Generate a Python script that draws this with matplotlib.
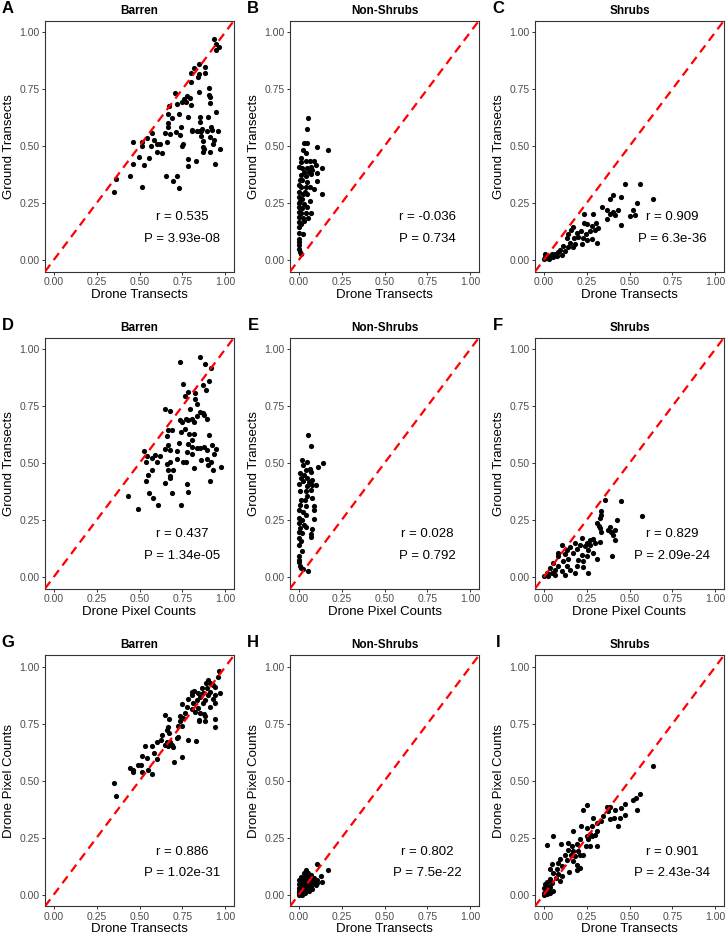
import matplotlib
matplotlib.use("Agg")
import matplotlib.pyplot as plt

plt.rcParams["font.family"] = ["Liberation Sans", "DejaVu Sans"]

# Panel A: Barren, drone transects vs ground transects
a_pts = [(0.35, 0.298), (0.364, 0.355), (0.445, 0.369), (0.462, 0.422), (0.464, 0.517), (0.499, 0.454),
         (0.513, 0.32), (0.515, 0.502), (0.515, 0.52), (0.528, 0.415), (0.542, 0.534), (0.553, 0.448),
         (0.571, 0.556), (0.565, 0.50), (0.584, 0.527), (0.600, 0.474), (0.603, 0.51), (0.619, 0.51),
         (0.629, 0.469), (0.652, 0.369), (0.648, 0.556), (0.658, 0.52), (0.663, 0.585), (0.663, 0.60),
         (0.667, 0.639), (0.671, 0.676), (0.677, 0.552), (0.687, 0.622), (0.696, 0.345), (0.704, 0.734),
         (0.712, 0.563), (0.716, 0.685), (0.721, 0.371), (0.727, 0.641), (0.729, 0.318), (0.735, 0.549),
         (0.741, 0.585), (0.747, 0.693), (0.75, 0.502), (0.754, 0.51), (0.758, 0.707), (0.768, 0.695),
         (0.778, 0.72), (0.78, 0.629), (0.785, 0.442), (0.785, 0.413), (0.793, 0.71), (0.797, 0.68),
         (0.797, 0.822), (0.803, 0.571), (0.799, 0.781), (0.808, 0.568), (0.818, 0.841), (0.828, 0.435),
         (0.832, 0.568), (0.841, 0.801), (0.847, 0.86), (0.847, 0.816), (0.851, 0.568), (0.849, 0.737),
         (0.851, 0.629), (0.855, 0.604), (0.857, 0.566), (0.857, 0.545), (0.863, 0.577), (0.867, 0.476),
         (0.87, 0.498), (0.872, 0.523), (0.874, 0.488), (0.88, 0.848), (0.882, 0.819), (0.89, 0.564),
         (0.9, 0.626), (0.905, 0.755), (0.905, 0.724), (0.909, 0.539), (0.913, 0.472), (0.913, 0.715),
         (0.913, 0.691), (0.919, 0.582), (0.921, 0.571), (0.925, 0.51), (0.932, 0.527), (0.936, 0.969),
         (0.938, 0.423), (0.944, 0.65), (0.944, 0.92), (0.948, 0.947), (0.957, 0.564), (0.963, 0.934),
         (0.967, 0.488)]

# Panel B: Non-Shrubs, drone transects vs ground transects
b_pts = [(0.056, 0.621), (0.047, 0.576), (0.031, 0.515), (0.05, 0.512), (0.109, 0.497), (0.172, 0.485),
         (0.027, 0.482), (0.041, 0.471), (0.012, 0.431), (0.041, 0.434), (0.066, 0.434), (0.089, 0.436),
         (0.002, 0.409), (0.021, 0.406), (0.05, 0.402), (0.07, 0.409), (0.099, 0.417), (0.138, 0.406),
         (0.031, 0.387), (0.06, 0.387), (0.079, 0.395), (0.105, 0.383), (0.012, 0.373), (0.045, 0.368),
         (0.074, 0.377), (0.109, 0.348), (0.021, 0.351), (0.05, 0.344), (0.0, 0.329), (0.012, 0.319),
         (0.041, 0.322), (0.066, 0.319), (0.089, 0.31), (0.134, 0.292), (0.002, 0.3), (0.027, 0.289),
         (0.05, 0.292), (0.0, 0.278), (0.021, 0.268), (0.064, 0.259), (0.002, 0.249), (0.031, 0.246),
         (0.0, 0.231), (0.021, 0.227), (0.047, 0.234), (0.0, 0.212), (0.012, 0.205), (0.041, 0.205),
         (0.07, 0.205), (0.002, 0.19), (0.027, 0.183), (0.056, 0.183), (0.0, 0.168), (0.012, 0.158),
         (0.002, 0.146), (0.027, 0.114), (0.0, 0.095), (0.0, 0.08), (0.002, 0.066), (0.0, 0.051),
         (0.006, 0.037), (0.012, 0.025), (0.015, 0.45), (0.008, 0.35), (0.035, 0.30), (0.01, 0.26),
         (0.03, 0.17), (0.005, 0.12)]

# Panel C: Shrubs, drone transects vs ground transects
c_pts = [(0.475, 0.333), (0.56, 0.333), (0.405, 0.285), (0.452, 0.278), (0.638, 0.266), (0.388, 0.27),
         (0.544, 0.249), (0.339, 0.231), (0.37, 0.219), (0.405, 0.213), (0.434, 0.219), (0.384, 0.202),
         (0.413, 0.199), (0.236, 0.202), (0.285, 0.202), (0.52, 0.219), (0.531, 0.199), (0.504, 0.192),
         (0.37, 0.18), (0.453, 0.155), (0.236, 0.165), (0.254, 0.158), (0.279, 0.15), (0.304, 0.165),
         (0.318, 0.143), (0.298, 0.133), (0.269, 0.129), (0.246, 0.114), (0.172, 0.146), (0.157, 0.132),
         (0.192, 0.121), (0.217, 0.129), (0.143, 0.114), (0.134, 0.099), (0.176, 0.096), (0.202, 0.102),
         (0.231, 0.096), (0.254, 0.088), (0.279, 0.092), (0.308, 0.077), (0.153, 0.077), (0.182, 0.07),
         (0.221, 0.073), (0.143, 0.056), (0.169, 0.058), (0.114, 0.063), (0.095, 0.044), (0.124, 0.041),
         (0.085, 0.034), (0.066, 0.026), (0.047, 0.029), (0.027, 0.019), (0.008, 0.015), (0.037, 0.015),
         (0.056, 0.012), (0.017, 0.009), (0.0, 0.004), (0.033, 0.004), (0.008, 0.026), (0.076, 0.019),
         (0.105, 0.023)]

# Panel D: Barren, drone pixel counts vs ground transects
d_pts = [(0.855, 0.966), (0.735, 0.942), (0.88, 0.934), (0.915, 0.918), (0.903, 0.86), (0.756, 0.847),
         (0.87, 0.843), (0.886, 0.821), (0.785, 0.813), (0.822, 0.809), (0.765, 0.792), (0.822, 0.78),
         (0.836, 0.758), (0.648, 0.736), (0.677, 0.729), (0.793, 0.736), (0.851, 0.726), (0.87, 0.719),
         (0.832, 0.707), (0.874, 0.711), (0.735, 0.69), (0.77, 0.692), (0.785, 0.687), (0.807, 0.692),
         (0.894, 0.692), (0.82, 0.678), (0.745, 0.678), (0.764, 0.649), (0.667, 0.643), (0.69, 0.643),
         (0.739, 0.638), (0.787, 0.628), (0.906, 0.624), (0.658, 0.62), (0.818, 0.628), (0.731, 0.59),
         (0.803, 0.602), (0.667, 0.58), (0.785, 0.585), (0.921, 0.58), (0.526, 0.555), (0.648, 0.561),
         (0.677, 0.558), (0.716, 0.551), (0.774, 0.547), (0.807, 0.57), (0.836, 0.566), (0.851, 0.566),
         (0.874, 0.57), (0.894, 0.558), (0.948, 0.561), (0.932, 0.541), (0.545, 0.529), (0.571, 0.522),
         (0.619, 0.529), (0.59, 0.535), (0.536, 0.503), (0.6, 0.503), (0.658, 0.497), (0.677, 0.507),
         (0.716, 0.517), (0.754, 0.507), (0.77, 0.503), (0.803, 0.541), (0.857, 0.515), (0.89, 0.519),
         (0.919, 0.507), (0.896, 0.493), (0.977, 0.485), (0.571, 0.471), (0.696, 0.471), (0.818, 0.478),
         (0.928, 0.471), (0.667, 0.471), (0.547, 0.449), (0.677, 0.442), (0.677, 0.434), (0.538, 0.42),
         (0.648, 0.413), (0.779, 0.41), (0.909, 0.423), (0.555, 0.369), (0.69, 0.369), (0.78, 0.372),
         (0.431, 0.354), (0.58, 0.347), (0.609, 0.318), (0.739, 0.318), (0.489, 0.299)]

# Panel E: Non-Shrubs, drone pixel counts vs ground transects
e_pts = [(0.056, 0.621), (0.074, 0.577), (0.021, 0.515), (0.047, 0.507), (0.141, 0.5), (0.112, 0.485),
         (0.027, 0.493), (0.041, 0.471), (0.066, 0.474), (0.07, 0.459), (0.008, 0.456), (0.031, 0.449),
         (0.05, 0.435), (0.012, 0.435), (0.079, 0.427), (0.002, 0.41), (0.027, 0.42), (0.06, 0.415),
         (0.099, 0.405), (0.047, 0.398), (0.079, 0.402), (0.008, 0.376), (0.041, 0.376), (0.07, 0.384),
         (0.05, 0.354), (0.079, 0.347), (0.012, 0.34), (0.035, 0.337), (0.008, 0.318), (0.041, 0.31),
         (0.089, 0.31), (0.089, 0.296), (0.002, 0.296), (0.027, 0.284), (0.045, 0.274), (0.089, 0.255),
         (0.002, 0.26), (0.021, 0.252), (0.0, 0.238), (0.031, 0.23), (0.008, 0.216), (0.041, 0.22),
         (0.079, 0.212), (0.0, 0.197), (0.021, 0.194), (0.074, 0.191), (0.07, 0.177), (0.002, 0.172),
         (0.016, 0.157), (0.002, 0.143), (0.021, 0.114), (0.0, 0.092), (0.0, 0.077), (0.002, 0.066),
         (0.008, 0.051), (0.016, 0.041), (0.056, 0.026), (0.027, 0.034)]

# Panel F: Shrubs, drone pixel counts vs ground transects
f_pts = [(0.357, 0.339), (0.448, 0.336), (0.333, 0.288), (0.337, 0.273), (0.57, 0.269), (0.328, 0.259),
         (0.428, 0.249), (0.308, 0.237), (0.322, 0.225), (0.386, 0.222), (0.328, 0.215), (0.376, 0.208),
         (0.395, 0.2), (0.415, 0.205), (0.337, 0.196), (0.405, 0.186), (0.415, 0.161), (0.289, 0.167),
         (0.269, 0.164), (0.254, 0.152), (0.221, 0.171), (0.105, 0.142), (0.182, 0.149), (0.211, 0.142),
         (0.24, 0.137), (0.269, 0.142), (0.298, 0.149), (0.328, 0.156), (0.153, 0.132), (0.192, 0.123),
         (0.26, 0.12), (0.289, 0.108), (0.134, 0.12), (0.085, 0.108), (0.124, 0.101), (0.172, 0.105),
         (0.221, 0.098), (0.25, 0.091), (0.308, 0.079), (0.401, 0.091), (0.085, 0.091), (0.143, 0.079),
         (0.202, 0.076), (0.231, 0.069), (0.114, 0.069), (0.056, 0.064), (0.085, 0.05), (0.134, 0.05),
         (0.192, 0.047), (0.227, 0.044), (0.26, 0.02), (0.037, 0.039), (0.066, 0.032), (0.105, 0.025),
         (0.153, 0.032), (0.017, 0.02), (0.047, 0.018), (0.0, 0.006), (0.027, 0.006), (0.066, 0.01),
         (0.124, 0.01), (0.182, 0.018)]

# Panel G: Barren, drone transects vs drone pixel counts
g_pts = [(0.963, 0.981), (0.957, 0.953), (0.899, 0.942), (0.913, 0.93), (0.928, 0.92), (0.886, 0.927),
         (0.861, 0.905), (0.89, 0.905), (0.938, 0.913), (0.803, 0.891), (0.816, 0.894), (0.841, 0.884),
         (0.87, 0.886), (0.909, 0.891), (0.967, 0.884), (0.803, 0.876), (0.851, 0.869), (0.899, 0.876),
         (0.938, 0.876), (0.783, 0.857), (0.832, 0.854), (0.88, 0.854), (0.928, 0.857), (0.812, 0.84),
         (0.87, 0.84), (0.938, 0.843), (0.745, 0.837), (0.909, 0.822), (0.774, 0.822), (0.803, 0.814),
         (0.841, 0.818), (0.822, 0.803), (0.851, 0.799), (0.874, 0.792), (0.884, 0.782), (0.764, 0.796),
         (0.648, 0.789), (0.735, 0.782), (0.754, 0.774), (0.847, 0.767), (0.671, 0.771), (0.938, 0.77),
         (0.737, 0.76), (0.845, 0.76), (0.88, 0.76), (0.725, 0.741), (0.745, 0.738), (0.94, 0.735),
         (0.667, 0.735), (0.661, 0.723), (0.673, 0.709), (0.629, 0.702), (0.725, 0.694), (0.716, 0.687),
         (0.6, 0.672), (0.623, 0.677), (0.658, 0.672), (0.677, 0.668), (0.78, 0.677), (0.826, 0.675),
         (0.648, 0.659), (0.667, 0.654), (0.687, 0.658), (0.571, 0.654), (0.532, 0.651), (0.696, 0.648),
         (0.584, 0.622), (0.542, 0.6), (0.749, 0.604), (0.6, 0.595), (0.513, 0.61), (0.7, 0.581),
         (0.445, 0.556), (0.46, 0.546), (0.464, 0.539), (0.493, 0.568), (0.509, 0.568), (0.551, 0.549),
         (0.513, 0.539), (0.571, 0.53), (0.352, 0.491), (0.364, 0.432)]

# Panel H: Non-Shrubs, drone transects vs drone pixel counts
h_pts = [(0.109, 0.137), (0.172, 0.11), (0.056, 0.098), (0.128, 0.083), (0.138, 0.058), (0.041, 0.083),
         (0.07, 0.076), (0.089, 0.073), (0.027, 0.073), (0.05, 0.064), (0.079, 0.061), (0.105, 0.064),
         (0.012, 0.058), (0.035, 0.054), (0.06, 0.05), (0.089, 0.054), (0.002, 0.047), (0.021, 0.039),
         (0.047, 0.039), (0.07, 0.039), (0.002, 0.032), (0.031, 0.029), (0.008, 0.021), (0.05, 0.025),
         (0.0, 0.0), (0.005, 0.008), (0.015, 0.004), (0.025, 0.012), (0.012, 0.015), (0.0, 0.018),
         (0.035, 0.018), (0.04, 0.008), (0.02, 0.0), (0.06, 0.015), (0.008, 0.035), (0.018, 0.05),
         (0.03, 0.042), (0.065, 0.03), (0.08, 0.025), (0.1, 0.045), (0.11, 0.05), (0.075, 0.085),
         (0.06, 0.07), (0.045, 0.06), (0.0, 0.065), (0.015, 0.08), (0.03, 0.095), (0.045, 0.11)]

# Panel I: Shrubs, drone transects vs drone pixel counts
i_pts = [(0.638, 0.563), (0.56, 0.444), (0.537, 0.425), (0.521, 0.418), (0.546, 0.374), (0.473, 0.4),
         (0.453, 0.381), (0.473, 0.352), (0.444, 0.338), (0.434, 0.304), (0.415, 0.371), (0.386, 0.386),
         (0.37, 0.386), (0.376, 0.367), (0.409, 0.335), (0.386, 0.333), (0.347, 0.345), (0.337, 0.323),
         (0.254, 0.396), (0.231, 0.374), (0.289, 0.338), (0.308, 0.313), (0.279, 0.304), (0.25, 0.294),
         (0.215, 0.301), (0.172, 0.282), (0.312, 0.279), (0.298, 0.264), (0.269, 0.269), (0.25, 0.257),
         (0.26, 0.243), (0.279, 0.257), (0.211, 0.243), (0.056, 0.257), (0.017, 0.217), (0.099, 0.221),
         (0.143, 0.228), (0.163, 0.213), (0.192, 0.225), (0.246, 0.216), (0.269, 0.213), (0.312, 0.216),
         (0.143, 0.196), (0.172, 0.192), (0.202, 0.192), (0.231, 0.177), (0.157, 0.173), (0.182, 0.17),
         (0.211, 0.173), (0.124, 0.177), (0.095, 0.158), (0.134, 0.155), (0.169, 0.148), (0.192, 0.129),
         (0.085, 0.141), (0.047, 0.134), (0.105, 0.126), (0.211, 0.119), (0.192, 0.109), (0.149, 0.1),
         (0.076, 0.112), (0.037, 0.115), (0.056, 0.097), (0.085, 0.09), (0.105, 0.083), (0.072, 0.075),
         (0.095, 0.06), (0.037, 0.068), (0.017, 0.056), (0.008, 0.046), (0.047, 0.053), (0.027, 0.039),
         (0.0, 0.031), (0.033, 0.027), (0.056, 0.017), (0.014, 0.012), (0.037, 0.036), (0.005, 0.0),
         (0.02, 0.005), (0.0, 0.01), (0.04, 0.01)]

letters = ["A", "B", "C", "D", "E", "F", "G", "H", "I"]
titles = ["Barren", "Non-Shrubs", "Shrubs"] * 3
x_labels = ["Drone Transects"] * 3 + ["Drone Pixel Counts"] * 3 + ["Drone Transects"] * 3
y_labels = ["Ground Transects"] * 6 + ["Drone Pixel Counts"] * 3
r_vals = ["0.535", "-0.036", "0.909", "0.437", "0.028", "0.829", "0.886", "0.802", "0.901"]
p_vals = ["3.93e-08", "0.734", "6.3e-36", "1.34e-05", "0.792", "2.09e-24", "1.02e-31", "7.5e-22", "2.43e-34"]
all_pts = [a_pts, b_pts, c_pts, d_pts, e_pts, f_pts, g_pts, h_pts, i_pts]

W, H = 728, 939
col_left = [45, 290, 535]
row_top = [20.6, 337.6, 655.3]
box_w, box_h = 189, 251
ticks = [0.0, 0.25, 0.5, 0.75, 1.0]
tick_txt = ["0.00", "0.25", "0.50", "0.75", "1.00"]

fig = plt.figure(figsize=(W / 100, H / 100), dpi=100)

for k in range(9):
    r, c = divmod(k, 3)
    ax = fig.add_axes([col_left[c] / W, 1 - (row_top[r] + box_h) / H, box_w / W, box_h / H])
    xs = [p[0] for p in all_pts[k]]
    ys = [p[1] for p in all_pts[k]]
    # 1:1 reference line
    ax.axline((0, 0), slope=1, color="#ff0000", lw=1.6, ls=(0, (3.9, 2.6)), zorder=3)
    ax.scatter(xs, ys, s=14, color="black", linewidths=0, zorder=2)
    ax.set_xlim(-0.05, 1.05)
    ax.set_ylim(-0.05, 1.05)
    ax.set_xticks(ticks)
    ax.set_xticklabels(tick_txt)
    ax.set_yticks(ticks)
    ax.set_yticklabels(tick_txt)
    ax.tick_params(length=2.5, width=0.7, color="#333333", labelcolor="#4d4d4d",
                   labelsize=7.5, pad=1.5)
    for sp in ax.spines.values():
        sp.set_color("#333333")
        sp.set_linewidth(0.8)
    ax.set_xlabel(x_labels[k], fontsize=9.5, labelpad=1)
    ax.set_ylabel(y_labels[k], fontsize=9.5, labelpad=3)
    ax.set_title(titles[k], fontsize=8.5, fontweight="bold", pad=5)
    ax.text(0.75, 0.19, "r = " + r_vals[k], ha="center", va="center", fontsize=9.5)
    ax.text(0.75, 0.095, "P = " + p_vals[k], ha="center", va="center", fontsize=9.5)
    fig.text((col_left[c] - 37) / W, 1 - (row_top[r] - 12.5) / H, letters[k],
             ha="center", va="center", fontsize=12, fontweight="bold")

fig.savefig("out.png", dpi=100)
